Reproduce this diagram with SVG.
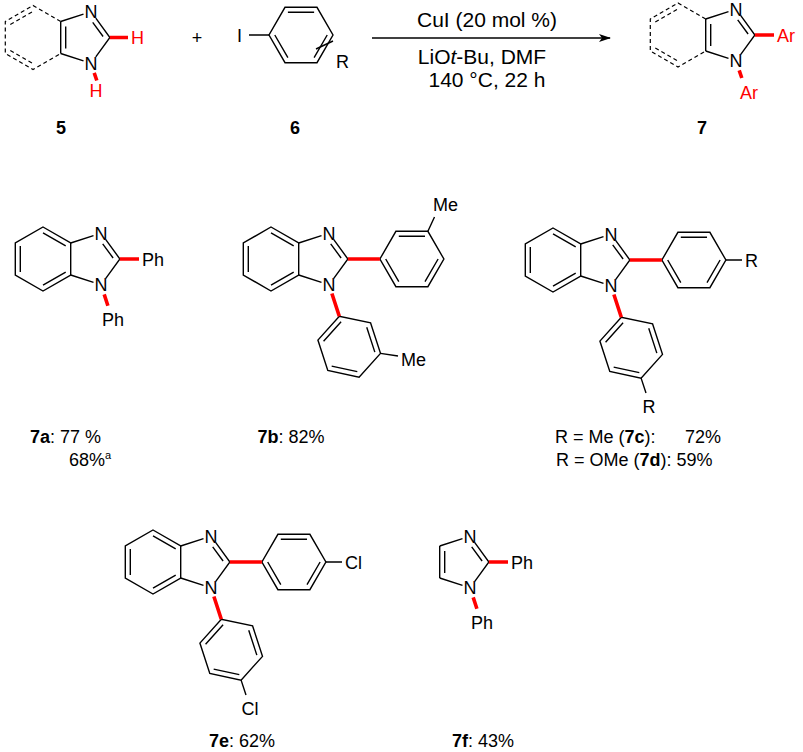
<svg xmlns="http://www.w3.org/2000/svg" xmlns:xlink="http://www.w3.org/1999/xlink" width="803" height="752" viewBox="0 0 803 752">
<style>
.b{fill:none;stroke:#000;stroke-width:1.4}
.d{fill:none;stroke:#000;stroke-width:1.2;stroke-dasharray:4 3}
.r{fill:none;stroke:#f00;stroke-width:3.6}
text{font-family:"Liberation Sans",Arial,sans-serif;font-size:18px;fill:#000}
.m{text-anchor:middle}
.red{fill:#f00}
.bold{font-weight:bold}
.c{font-size:21px}
</style>
<defs>
<g id="ring">
<polygon class="b" points="0,-32 27.7,-16 27.7,16 0,32 -27.7,16 -27.7,-16"/>
<path class="b" d="M0,-26.2 L22.7,-13.1 M22.7,13.1 L0,26.2 M-22.7,13.1 L-22.7,-13.1"/>
</g>
<g id="imid">
<path class="b" d="M27.7,-16 L50.5,-23.4 M62.8,-19.4 L76.9,0 L62.8,19.4 M50.5,23.4 L27.7,16 M59.7,-15.2 L70.1,-1"/>
<text class="m" x="58.1" y="-19.5">N</text>
<text class="m" x="58.1" y="32.4">N</text>
</g>
<g id="core">
<use xlink:href="#ring"/>
<use xlink:href="#imid"/>
</g>
<g id="dcore">
<path class="d" d="M27.7,-16 L0,-32 L-27.7,-16 L-27.7,16 L0,32 L27.7,16 M-22.7,-13.1 L0,-26.2 M-22.7,13.1 L0,26.2"/>
<path class="b" d="M27.7,-16 L27.7,16 M32.7,-11 L32.7,11"/>
<use xlink:href="#imid"/>
</g>
<marker id="ah" markerWidth="12" markerHeight="8" refX="11" refY="4" orient="auto" markerUnits="userSpaceOnUse">
<path d="M0,0 L12,4 L0,8 L3,4 Z" fill="#000"/>
</marker>
</defs>

<g id="cpd5" transform="translate(33,37.5)">
<use xlink:href="#dcore"/>
<path class="r" d="M76.9,0 L95,0 M61.2,35.4 L63.8,43"/>
<text class="red" x="98" y="6.5">H</text>
<text class="red m" x="63" y="59">H</text>
</g>
<text id="lbl5" class="bold m" x="61" y="134">5</text>

<text id="plus" class="m" x="197" y="44">+</text>

<g id="cpd6" transform="translate(301,35)">
<g transform="rotate(-30)"><use xlink:href="#ring"/></g>
<path class="b" d="M-32,0 L-52,0 M15,14 L32,6"/>
<text x="-64" y="6.5">I</text>
<text x="35" y="33">R</text>
</g>
<text id="lbl6" class="bold m" x="295" y="134">6</text>

<g id="conditions">
<line class="b" x1="372" y1="38" x2="610" y2="38" marker-end="url(#ah)"/>
<text class="m c" x="487" y="27">CuI (20 mol %)</text>
<text class="m c" x="482" y="64">LiO<tspan font-style="italic">t</tspan>-Bu, DMF</text>
<text class="m c" x="487" y="87">140 °C, 22 h</text>
</g>

<g id="cpd7" transform="translate(678,35)">
<use xlink:href="#dcore"/>
<path class="r" d="M76.9,0 L96,0 M61.2,35.4 L63.8,43"/>
<text class="red" x="99" y="6.5">Ar</text>
<text class="red m" x="71" y="64">Ar</text>
</g>
<text id="lbl7" class="bold m" x="702" y="134">7</text>

<g id="cpd7a" transform="translate(43,259)">
<use xlink:href="#core"/>
<path class="r" d="M76.9,0 L96,0 M61.2,35.4 L64.9,46.8"/>
<text x="99" y="6.5">Ph</text>
<text x="59" y="67">Ph</text>
</g>
<g id="cap7a">
<text x="30" y="443"><tspan class="bold">7a</tspan>: 77 %</text>
<text x="69" y="466">68%<tspan font-size="11" dy="-7">a</tspan></text>
</g>

<g id="cpd7b" transform="translate(271,259)">
<use xlink:href="#core"/>
<g transform="translate(140.9,0) rotate(-30)"><use xlink:href="#ring"/></g>
<g transform="translate(78.2,87.7) rotate(42)"><use xlink:href="#ring"/></g>
<path class="r" d="M76.9,0 L108.9,0 M60.9,34.5 L68.3,57.3"/>
<path class="b" d="M156.9,-27.7 L163.5,-42 M109.5,94.4 L127,97"/>
<text x="162" y="-48">Me</text>
<text x="130" y="107">Me</text>
</g>
<text id="cap7b" class="m" x="291" y="443"><tspan class="bold">7b</tspan>: 82%</text>

<g id="cpd7c" transform="translate(553,260)">
<use xlink:href="#core"/>
<g transform="translate(140.9,0) rotate(-30)"><use xlink:href="#ring"/></g>
<g transform="translate(78.2,87.7) rotate(42)"><use xlink:href="#ring"/></g>
<path class="r" d="M76.9,0 L108.9,0 M60.9,34.5 L68.3,57.3"/>
<path class="b" d="M172.9,0 L189,0 M88.1,118.1 L93,133"/>
<text x="192" y="6.5">R</text>
<text class="m" x="96" y="153">R</text>
</g>
<g id="cap7c">
<text x="555" y="443">R = Me (<tspan class="bold">7c</tspan>):</text>
<text x="685" y="443">72%</text>
<text x="556" y="466">R = OMe (<tspan class="bold">7d</tspan>): 59%</text>
</g>

<g id="cpd7e" transform="translate(153,562)">
<use xlink:href="#core"/>
<g transform="translate(140.9,0) rotate(-30)"><use xlink:href="#ring"/></g>
<g transform="translate(78.2,87.7) rotate(42)"><use xlink:href="#ring"/></g>
<path class="r" d="M76.9,0 L108.9,0 M60.9,34.5 L68.3,57.3"/>
<path class="b" d="M172.9,0 L189,0 M88.1,118.1 L93,133"/>
<text x="192" y="6.5">Cl</text>
<text class="m" x="97" y="153">Cl</text>
</g>
<text id="cap7e" class="m" x="242" y="747"><tspan class="bold">7e</tspan>: 62%</text>

<g id="cpd7f" transform="translate(412,562)">
<use xlink:href="#imid"/>
<path class="b" d="M27.7,-16 L27.7,16 M32.7,-11 L32.7,11"/>
<path class="r" d="M76.9,0 L96,0 M61.2,35.4 L64.9,46.8"/>
<text x="99" y="6.5">Ph</text>
<text x="59" y="67">Ph</text>
</g>
<text id="cap7f" class="m" x="483" y="747"><tspan class="bold">7f</tspan>: 43%</text>
</svg>
